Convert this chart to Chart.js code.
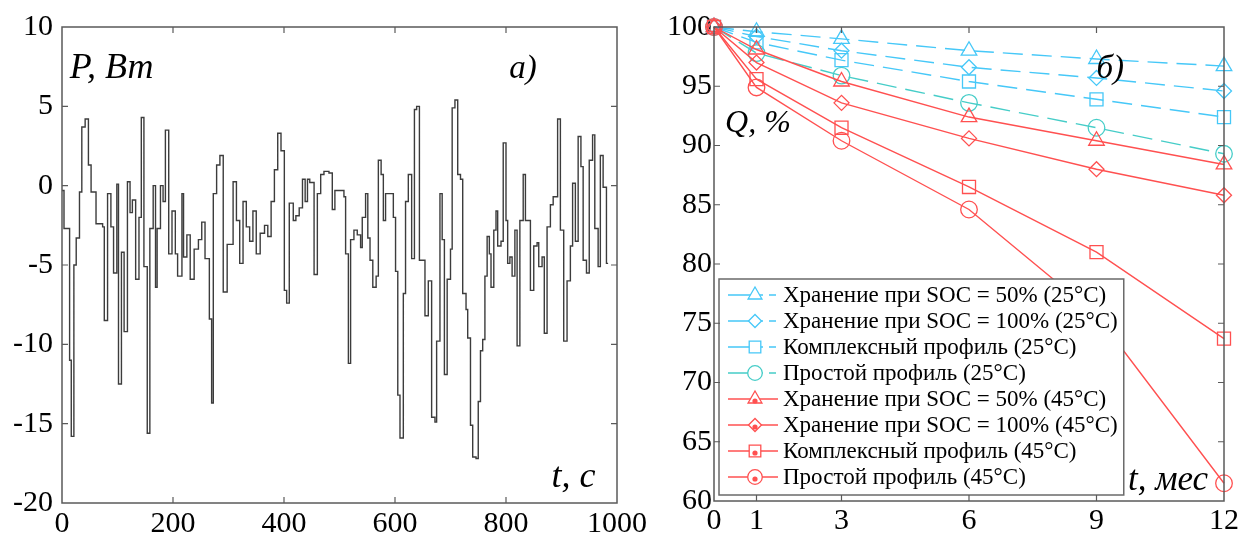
<!DOCTYPE html>
<html>
<head>
<meta charset="utf-8">
<script src="https://cdn.jsdelivr.net/npm/chart.js@4.4.0/dist/chart.umd.min.js"></script>
<style>
html, body { margin: 0; padding: 0; background: #fff; }
#wrapA { position: absolute; left: 0; top: 0; width: 650px; height: 541px; }
#wrapB { position: absolute; left: 650px; top: 0; width: 593px; height: 541px; }
</style>
</head>
<body>
<div id="wrapA"><canvas id="chartA" width="650" height="541"></canvas></div>
<div id="wrapB"><canvas id="chartB" width="593" height="541"></canvas></div>
<script>
// а) профиль мощности: моменты переключения (с) и новое значение (Вт)
var powerTime = [0, 3.6, 13.7, 16.7, 21.4, 25.6, 31.5, 35.7, 41.7, 47.6, 52.4, 61.3, 73.2, 76.2, 82.1, 88.1,
    92.9, 98.8, 101.8, 107.1, 111.9, 117.9, 122.6, 126.8, 132.7, 138.7, 142.9, 147.6, 153.6, 158.3,
    164.3, 168.5, 171.4, 177.4, 182.1, 186.3, 192.3, 198.2, 204.2, 208.3, 216.1, 219, 225, 231,
    238.1, 245.8, 251.8, 257.7, 265.5, 269.6, 272.6, 278.6, 284.5, 290.5, 297.6, 308.3, 314.3,
    320.2, 326.2, 332.1, 338.1, 344, 350, 357.1, 364.9, 370.8, 376.8, 382.7, 388.7, 394.6, 400.6,
    404.8, 409.5, 416.7, 421.4, 427.4, 433.3, 438.1, 442.3, 446.4, 454.2, 460.1, 466.1, 472, 481,
    487, 491.7, 508, 511, 516, 520, 526, 532, 538, 541, 547, 551, 555, 560, 566, 570, 575, 579,
    583, 597, 601, 605, 609, 615, 619, 624, 630, 635, 639, 644, 654, 660, 666, 672, 675, 681, 685,
    689, 694, 700, 703, 708, 713, 718, 722, 728, 731, 736, 740, 746, 750, 754, 758, 762, 766, 770,
    773, 778, 782, 785, 791, 795, 800, 803, 807, 811, 816, 820, 825, 831, 835, 844, 850, 856, 859,
    865, 869, 874, 880, 885, 893, 898, 904, 910, 916, 920, 925, 930, 935, 939, 945, 950, 956, 960,
    966, 970, 975, 981, 984];
var powerWatts = [-0.3, -2.7, -11, -15.8, -5, -3.3, -0.4, 3.7, 4.2, 1.3, -0.4, -2.4, -2.6, -8.5, -0.5, -2.6,
    -5.5, 0.1, -12.5, -4.2, -9.2, 0.25, -1.7, -0.9, -5.9, -2, 4.3, -5.1, -15.6, -2.7,
    0, -6.4, -2.7, 0, -1, 3.5, -4.3, -1.6, -4.3, -5.7, -0.5, -4.5, -3.1, -5.9,
    -4, -3.4, -2.3, -4.6, -8.4, -13.7, -0.5, 1.3, 1.9, -6.7, -3.7, 0.25, -2.2,
    -4.9, -1, -2.6, -3.5, -1.6, -4.3, -3, -2.5, -3.2, -1, 1, 3.3, 2.2, -6.6,
    -7.4, -1.1, -2.2, -1.9, -1.4, 0.4, -1, 0.4, 0.2, -5.6, -0.5, 0.7, 0.9, 0.8,
    -1.5, -0.3, -0.7, -4.3, -11.2, -3.4, -2.8, -3.1, -3.9, -2, -0.5, -3.3, -4.7, -6.4, -5.7, 1.6, 0.7, -2.2,
    -0.5, -2, -5.4, -13.2, -15.9, -6.8, -1, 0.7, -4.6, 4.8, 5, -4.7, -8.2, -6, -14.6, -14.9, -9.8, -0.5, -3.4,
    -11.9, -5.9, -4, 4.9, 5.4, 0.7, 0.4, -6.8, -7.8, -9.6, -15.1, -17.1, -17.2, -13.6, -10.4, -9.7, -5.7, -3.2, -4.3,
    -6.4, -2.8, -1.6, -3.8, -3.5, 2.7, -2.2, -4.9, -4.5, -5.7, -2.8, -10.1, -2.2, 0.7, -2.2, -6.6, -3.8, -3.6, -5.1,
    -4.5, -9.3, -2.6, -1.2, -0.7, 4.2, -2.8, -9.8, -6, -3.8, 0.15, -3.5, 3.1, 1.2, -4.7, -5.5, 1.6, 3.2, -2.7,
    -5.1, 1.9, -0.1, -4.9, -4.9];

// б) ёмкость Q (%) по месяцам
var months = [0, 1, 3, 6, 9, 12];
var monthTicks = [0, 1, 3, 6, 9, 12];
var soc50at25 = [100, 99.6, 99.0, 98.0, 97.3, 96.7];
var soc100at25 = [100, 99.2, 98.0, 96.6, 95.7, 94.6];
var complexAt25 = [100, 98.7, 97.2, 95.4, 93.9, 92.4];
var simpleAt25 = [100, 97.8, 95.9, 93.6, 91.5, 89.3];
var soc50at45 = [100, 98.1, 95.4, 92.4, 90.4, 88.4];
var soc100at45 = [100, 97.0, 93.6, 90.6, 88.0, 85.8];
var complexAt45 = [100, 95.6, 91.5, 86.5, 81.0, 73.7];
var simpleAt45 = [100, 94.9, 90.4, 84.6, 75.7, 61.5];
var seriesLabels = [
    'Хранение при SOC = 50% (25°C)',
    'Хранение при SOC = 100% (25°C)',
    'Комплексный профиль (25°C)',
    'Простой профиль (25°C)',
    'Хранение при SOC = 50% (45°C)',
    'Хранение при SOC = 100% (45°C)',
    'Комплексный профиль (45°C)',
    'Простой профиль (45°C)'
];

var SERIF = "'Liberation Serif', 'Times New Roman', serif";
var CYAN = 'rgb(70, 200, 248)';
var TEAL = 'rgb(70, 205, 200)';
var RED = 'rgb(255, 80, 80)';
var FRAME = '#5a5a5a';

// рамка, внутренние засечки, подписи осей и легенда внутри поля графика
var framePlugin = {
    id: 'frame',
    afterDatasetsDraw: function (chart, args, opts) {
        var ctx = chart.ctx, a = chart.chartArea;
        var xs = chart.scales.x, ys = chart.scales.y;
        ctx.save();
        if (opts.legend) drawLegend(chart, opts.legend);
        ctx.strokeStyle = FRAME;
        ctx.lineWidth = 1.5;
        ctx.setLineDash([]);
        ctx.strokeRect(a.left, a.top, a.right - a.left, a.bottom - a.top);
        ctx.lineWidth = 1.2;
        ctx.beginPath();
        xs.ticks.forEach(function (t) {
            var px = xs.getPixelForValue(t.value);
            if (px <= a.left + 1 || px >= a.right - 1) return;
            ctx.moveTo(px, a.bottom); ctx.lineTo(px, a.bottom - 6);
            ctx.moveTo(px, a.top); ctx.lineTo(px, a.top + 6);
        });
        ys.ticks.forEach(function (t) {
            var py = ys.getPixelForValue(t.value);
            if (py <= a.top + 1 || py >= a.bottom - 1) return;
            ctx.moveTo(a.left, py); ctx.lineTo(a.left + 6, py);
            ctx.moveTo(a.right, py); ctx.lineTo(a.right - 6, py);
        });
        ctx.stroke();
        ctx.fillStyle = '#000';
        ctx.textBaseline = 'alphabetic';
        ctx.textAlign = 'left';
        (opts.notes || []).forEach(function (n) {
            ctx.font = 'italic ' + n.size + 'px ' + SERIF;
            ctx.fillText(n.text, xs.getPixelForValue(n.x), ys.getPixelForValue(n.y));
        });
        ctx.restore();
    }
};

function drawLegend(chart, lg) {
    var ctx = chart.ctx, a = chart.chartArea;
    var sets = chart.data.datasets;
    var rowH = 26;
    ctx.font = lg.size + 'px ' + SERIF;
    var maxW = 0;
    sets.forEach(function (d) { maxW = Math.max(maxW, ctx.measureText(d.label).width); });
    var left = a.left + 5;
    var bottom = a.bottom - 6;
    var top = bottom - (sets.length * rowH + 8);
    var textX = left + 64;
    var right = textX + maxW + 6;
    ctx.fillStyle = '#fff';
    ctx.fillRect(left, top, right - left, bottom - top);
    ctx.strokeStyle = '#6a6a6a';
    ctx.lineWidth = 1.5;
    ctx.strokeRect(left, top, right - left, bottom - top);
    sets.forEach(function (d, i) {
        var cy = top + 16 + i * rowH;
        var mx = left + 36;
        ctx.strokeStyle = d.borderColor;
        ctx.lineWidth = 1.3;
        ctx.setLineDash([]);
        ctx.beginPath();
        if (d.borderDash && d.borderDash.length) {
            ctx.moveTo(left + 9, cy); ctx.lineTo(left + 44, cy);
            ctx.moveTo(left + 50, cy); ctx.lineTo(left + 57, cy);
        } else {
            ctx.moveTo(left + 9, cy); ctx.lineTo(left + 59, cy);
        }
        ctx.stroke();
        ctx.fillStyle = '#fff';
        Chart.helpers.drawPoint(ctx, {
            pointStyle: d.pointStyle, radius: d.pointRadius - 1, rotation: 0, borderWidth: 1.3
        }, mx, cy);
        if (!(d.borderDash && d.borderDash.length)) {
            ctx.fillStyle = d.borderColor;
            ctx.beginPath();
            ctx.arc(mx, cy + 2, 2.6, 0, Math.PI * 2);
            ctx.fill();
        }
        ctx.fillStyle = '#000';
        ctx.textBaseline = 'middle';
        ctx.fillText(d.label, textX, cy + 1);
    });
}

function tickFont(size) {
    return { family: SERIF, size: size };
}

function plainTick(v) {
    return String(v);
}

// а)
new Chart(document.getElementById('chartA'), {
    type: 'line',
    data: {
        datasets: [{
            data: powerTime.map(function (t, i) { return { x: t, y: powerWatts[i] }; }),
            stepped: true,
            borderColor: '#3c3c3c',
            borderWidth: 1.4,
            pointRadius: 0,
            fill: false
        }]
    },
    options: {
        responsive: false,
        animation: false,
        devicePixelRatio: 1,
        layout: { padding: { left: 0, top: 27, right: 26, bottom: 0 }, autoPadding: false },
        plugins: {
            legend: { display: false },
            tooltip: { enabled: false },
            frame: {
                notes: [
                    { text: 'P, Вт', x: 14, y: 6.8, size: 36 },
                    { text: 'а)', x: 806, y: 6.8, size: 33 },
                    { text: 't, с', x: 882, y: -19.0, size: 36 }
                ]
            }
        },
        scales: {
            x: {
                type: 'linear', min: 0, max: 1000,
                ticks: { stepSize: 200, font: tickFont(30), color: '#000', padding: 3, maxRotation: 0, autoSkip: false, callback: plainTick },
                grid: { display: false, drawTicks: false },
                border: { display: false },
                afterFit: function (s) { s.height = 38; }
            },
            y: {
                min: -20, max: 10,
                ticks: { stepSize: 5, font: tickFont(30), color: '#000', padding: 9, callback: plainTick },
                grid: { display: false, drawTicks: false },
                border: { display: false },
                afterFit: function (s) { s.width = 62; }
            }
        }
    },
    plugins: [framePlugin]
});

// б)
var seriesValues = [soc50at25, soc100at25, complexAt25, simpleAt25, soc50at45, soc100at45, complexAt45, simpleAt45];
var seriesColors = [CYAN, CYAN, CYAN, TEAL, RED, RED, RED, RED];
var seriesStyles = ['triangle', 'rectRot', 'rect', 'circle', 'triangle', 'rectRot', 'rect', 'circle'];
var seriesRadius = [9, 7.5, 9.2, 8.3, 9, 7.5, 9.2, 8.3];

new Chart(document.getElementById('chartB'), {
    type: 'line',
    data: {
        datasets: seriesValues.map(function (vals, k) {
            return {
                label: seriesLabels[k],
                data: months.map(function (m, i) { return { x: m, y: vals[i] }; }),
                borderColor: seriesColors[k],
                backgroundColor: 'rgba(255,255,255,0)',
                pointBackgroundColor: 'rgba(255,255,255,0)',
                pointBorderColor: seriesColors[k],
                pointStyle: seriesStyles[k],
                pointRadius: seriesRadius[k],
                pointBorderWidth: 1.3,
                borderWidth: 1.4,
                borderDash: k < 4 ? [20, 9] : [],
                fill: false,
                clip: false,
                order: k < 4 ? 2 : 1
            };
        })
    },
    options: {
        responsive: false,
        animation: false,
        devicePixelRatio: 1,
        layout: { padding: { left: 0, top: 27, right: 19, bottom: 0 }, autoPadding: false },
        plugins: {
            legend: { display: false },
            tooltip: { enabled: false },
            frame: {
                legend: { size: 23 },
                notes: [
                    { text: 'б)', x: 9.0, y: 95.7, size: 33 },
                    { text: 'Q, %', x: 0.26, y: 91.1, size: 32 },
                    { text: 't, мес', x: 9.74, y: 60.9, size: 35 }
                ]
            }
        },
        scales: {
            x: {
                type: 'linear', min: 0, max: 12,
                afterBuildTicks: function (s) { s.ticks = monthTicks.map(function (v) { return { value: v }; }); },
                ticks: { font: tickFont(30), color: '#000', padding: 2, maxRotation: 0, autoSkip: false, callback: plainTick },
                grid: { display: false, drawTicks: false },
                border: { display: false },
                afterFit: function (s) { s.height = 40; }
            },
            y: {
                min: 60, max: 100,
                ticks: { stepSize: 5, font: tickFont(30), color: '#000', padding: 2, callback: plainTick },
                grid: { display: false, drawTicks: false },
                border: { display: false },
                afterFit: function (s) { s.width = 64; }
            }
        }
    },
    plugins: [framePlugin]
});
</script>
</body>
</html>
